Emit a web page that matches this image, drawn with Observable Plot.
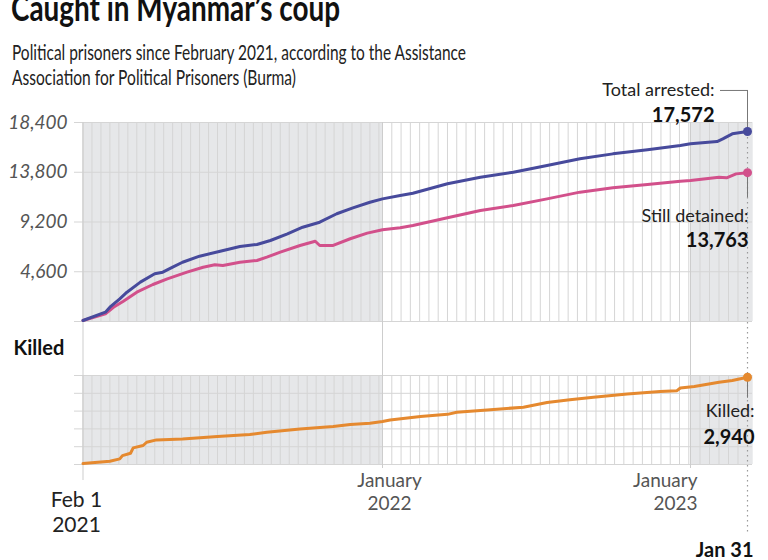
<!DOCTYPE html>
<html><head><meta charset="utf-8">
<script src="https://cdn.jsdelivr.net/npm/d3@7"></script>
<script src="https://cdn.jsdelivr.net/npm/@observablehq/plot@0.6"></script>
<style>
html,body{margin:0;padding:0;background:#fff;}
#wrap{position:relative;width:768px;height:560px;overflow:hidden;font-family:Lato,"Noto Sans",sans-serif;}
#wrap > svg{position:absolute;left:0;}
</style></head><body>
<div id="wrap">
<svg id="head" width="768" height="100" style="top:0" font-family="Lato, 'Noto Sans', sans-serif">
  <text x="11" y="21" font-size="36" font-weight="700" fill="#111" textLength="329" lengthAdjust="spacingAndGlyphs">Caught in Myanmar’s coup</text>
  <text x="12" y="60" font-size="21" fill="#222" textLength="454" lengthAdjust="spacingAndGlyphs">Political prisoners since February 2021, according to the Assistance</text>
  <text x="12" y="85" font-size="21" fill="#222" textLength="284" lengthAdjust="spacingAndGlyphs">Association for Political Prisoners (Burma)</text>
</svg>
</div>
<script>
// ---- data ----
const arrestedDates = ["2021-02-01","2021-02-26","2021-03-03","2021-03-14","2021-03-22","2021-04-06","2021-04-22","2021-05-01","2021-05-12","2021-05-23","2021-06-11","2021-07-04","2021-07-26","2021-08-14","2021-08-29","2021-09-17","2021-10-04","2021-10-23","2021-11-11","2021-11-29","2021-12-18","2022-01-01","2022-01-22","2022-02-06","2022-03-19","2022-04-27","2022-06-05","2022-07-15","2022-08-23","2022-10-01","2022-11-11","2022-12-20","2023-01-01","2023-01-15","2023-01-18","2023-01-23","2023-01-31"];
const arrestedValues = [90,860,1320,2100,2710,3640,4410,4560,5020,5480,6040,6500,6930,7120,7490,8110,8720,9180,9960,10510,11030,11340,11650,11860,12730,13340,13800,14420,15040,15500,15870,16270,16430,16640,16890,17350,17572];

const detainedDates = ["2021-02-01","2021-02-26","2021-03-07","2021-03-18","2021-04-02","2021-04-20","2021-05-06","2021-05-28","2021-06-15","2021-06-28","2021-07-07","2021-07-26","2021-08-14","2021-08-25","2021-09-09","2021-10-01","2021-10-18","2021-10-23","2021-11-07","2021-11-26","2021-12-15","2022-01-01","2022-01-22","2022-02-06","2022-03-19","2022-04-27","2022-06-05","2022-07-15","2022-08-23","2022-10-01","2022-11-11","2022-12-20","2023-01-01","2023-01-16","2023-01-20","2023-01-25","2023-01-31"];
const detainedValues = [90,710,1320,1880,2710,3420,3940,4560,5020,5240,5180,5480,5640,5950,6410,7030,7420,7030,7030,7650,8170,8480,8660,8880,9590,10260,10730,11340,11960,12360,12670,12970,13040,13340,13290,13650,13763];

const killedDates = ["2021-02-01","2021-03-03","2021-03-14","2021-03-17","2021-03-26","2021-03-29","2021-04-09","2021-04-13","2021-04-24","2021-05-23","2021-07-01","2021-08-06","2021-08-25","2021-10-01","2021-11-07","2021-11-26","2021-12-18","2022-01-01","2022-01-10","2022-02-15","2022-03-19","2022-03-30","2022-05-05","2022-06-17","2022-07-15","2022-08-11","2022-09-08","2022-10-18","2022-11-26","2022-12-16","2022-12-20","2023-01-03","2023-01-16","2023-01-23","2023-01-31"];
const killedValues = [30,110,190,300,380,560,640,750,830,860,940,1010,1090,1200,1280,1350,1390,1450,1500,1620,1690,1760,1840,1930,2090,2180,2270,2380,2460,2490,2580,2630,2770,2830,2940];

const topTicks = [0,4600,9200,13800,18400];
const killedTicks = [0,600,1200,1800,2400,3000];
const xBreaks = ["2021-02-01","2022-01-01","2023-01-01","2023-01-31"];
const shadeStarts = ["2021-02-01","2023-01-01"];
const shadeEnds = ["2022-01-01","2023-02-03"];
const majorDates = ["2021-02-01","2022-01-01","2023-01-01"];
const xLabelTexts = ["Feb 1\n2021","January\n2022","January\n2023","Jan 31"];

const colors = {arrested:"#474a9c", detained:"#d2508b", killed:"#e5892f"};

// ---- helpers ----
const parse = s => new Date(s + "T00:00:00Z");
const series = (ds, vs) => ds.map((d,i) => ({date: parse(d), value: vs[i]}));
const arrested = series(arrestedDates, arrestedValues);
const detained = series(detainedDates, detainedValues);
const killed = series(killedDates, killedValues);
const lastA = arrested.at(-1), lastD = detained.at(-1), lastK = killed.at(-1);
const shade = shadeStarts.map((s,i) => ({start: parse(s), end: parse(shadeEnds[i])}));
const majors = majorDates.map(parse);
const endDate = parse(xBreaks[3]);
const gridDates = [
  ...d3.utcDay.range(parse("2021-02-01"), parse("2022-01-01"), 10),
  ...d3.utcDay.range(parse("2022-01-01"), parse("2023-01-01"), 11),
  ...d3.utcDay.range(parse("2023-01-01"), parse("2023-01-31"), 5)
];
const fmt = d3.format(",");
const xScale = () => ({type: "utc", domain: xBreaks.map(parse), range: [82.5, 382, 690, 747], axis: null});
const gridColor = "#d5d5d5";
const style = {background: "transparent", fontFamily: "Lato, 'Noto Sans', sans-serif", overflow: "visible"};

// ---- top panel ----
const topPlot = Plot.plot({
  width: 768, height: 315,
  marginTop: 62, marginBottom: 54, marginLeft: 74, marginRight: 16,
  x: xScale(),
  y: {domain: [0, 18400], axis: null},
  style,
  marks: [
    Plot.rect(shade, {x1: "start", x2: "end", fill: "#e6e7e9"}),
    Plot.ruleX(gridDates, {stroke: gridColor, strokeWidth: 1}),
    Plot.ruleY(topTicks, {stroke: gridColor, strokeWidth: 1}),
    Plot.ruleX(majors, {stroke: "#cdcdcd", strokeWidth: 1, insetBottom: -54}),
    Plot.ruleX([endDate], {stroke: "#9a9a9a", strokeDasharray: "1.5,3.5", strokeWidth: 1.2, insetBottom: -54}),
    Plot.text(topTicks.slice(1), {y: d => d, text: d => fmt(d), frameAnchor: "left", textAnchor: "end", dx: -7, fontStyle: "italic", fontSize: 19, fill: "#555"}),
    Plot.line(detained, {x: "date", y: "value", stroke: colors.detained, strokeWidth: 3}),
    Plot.line(arrested, {x: "date", y: "value", stroke: colors.arrested, strokeWidth: 3}),
    // leaders
    Plot.ruleX([lastA], {x: "date", y1: "value", y2: "value", insetTop: -41, stroke: "#777", strokeWidth: 1}),
    Plot.ruleY([lastA], {y: "value", x1: "date", x2: "date", insetLeft: -27, dy: -41, stroke: "#777", strokeWidth: 1}),
    Plot.ruleX([lastD], {x: "date", y1: "value", y2: "value", insetBottom: -25, stroke: "#777", strokeWidth: 1}),
    Plot.dot([lastA], {x: "date", y: "value", r: 4.5, fill: colors.arrested}),
    Plot.dot([lastD], {x: "date", y: "value", r: 4.5, fill: colors.detained}),
    Plot.text([lastA], {x: "date", y: "value", text: d => "Total arrested:", textAnchor: "end", lineAnchor: "bottom", dx: -33, dy: -35, fontSize: 18, fill: "#222"}),
    Plot.text([lastA], {x: "date", y: "value", text: d => fmt(d.value), textAnchor: "end", lineAnchor: "bottom", dx: -33, dy: -9, fontSize: 20, fontWeight: "bold", fill: "#111"}),
    Plot.text([lastD], {x: "date", y: "value", text: d => "Still detained:", textAnchor: "end", lineAnchor: "bottom", dx: 1, dy: 49, fontSize: 18, fill: "#222"}),
    Plot.text([lastD], {x: "date", y: "value", text: d => fmt(d.value), textAnchor: "end", lineAnchor: "bottom", dx: 1, dy: 74, fontSize: 20, fontWeight: "bold", fill: "#111"})
  ]
});
topPlot.style.position = "absolute";
topPlot.style.top = "60px";
topPlot.style.left = "0px";

// ---- killed panel ----
const xl = xLabelTexts.map((t,i) => ({date: parse([...majorDates, xBreaks[3]][i]), label: t}));
const botPlot = Plot.plot({
  width: 768, height: 220,
  marginTop: 35, marginBottom: 96, marginLeft: 74, marginRight: 16,
  x: xScale(),
  y: {domain: [0, 3000], axis: null},
  style,
  marks: [
    Plot.rect(shade, {x1: "start", x2: "end", fill: "#e6e7e9"}),
    Plot.ruleX(gridDates, {stroke: gridColor, strokeWidth: 1}),
    Plot.ruleY(killedTicks, {stroke: gridColor, strokeWidth: 1}),
    Plot.ruleX(majors.slice(1), {stroke: "#cdcdcd", strokeWidth: 1, insetBottom: -4}),
    Plot.ruleX(majors.slice(0,1), {stroke: "#cdcdcd", strokeWidth: 1, insetBottom: -16}),
    Plot.ruleX([endDate], {stroke: "#9a9a9a", strokeDasharray: "1.5,3.5", strokeWidth: 1.2, insetBottom: -69}),
    Plot.line(killed, {x: "date", y: "value", stroke: colors.killed, strokeWidth: 3}),
    Plot.ruleX([lastK], {x: "date", y1: "value", y2: "value", insetBottom: -21, stroke: "#777", strokeWidth: 1}),
    Plot.dot([lastK], {x: "date", y: "value", r: 4.5, fill: colors.killed}),
    Plot.text([lastK], {x: "date", y: "value", text: d => "Killed:", textAnchor: "end", lineAnchor: "bottom", dx: 7, dy: 40, fontSize: 18, fill: "#222"}),
    Plot.text([lastK], {x: "date", y: "value", text: d => fmt(d.value), textAnchor: "end", lineAnchor: "bottom", dx: 7, dy: 67, fontSize: 20, fontWeight: "bold", fill: "#111"}),
    Plot.text(["Killed"], {text: d => d, frameAnchor: "top-left", textAnchor: "start", lineAnchor: "bottom", dx: -61, dy: -21, fontSize: 20, fontWeight: "bold", fill: "#111"}),
    // x labels
    Plot.text(xl.slice(0,1), {x: "date", text: "label", frameAnchor: "bottom", lineAnchor: "bottom", textAnchor: "middle", dx: -6.5, dy: 67, lineHeight: 1.18, fontSize: 21, fill: "#222"}),
    Plot.text(xl.slice(1,2), {x: "date", text: "label", frameAnchor: "bottom", lineAnchor: "bottom", textAnchor: "middle", dx: 7, dy: 45, lineHeight: 1.19, fontSize: 19, fill: "#555"}),
    Plot.text(xl.slice(2,3), {x: "date", text: "label", frameAnchor: "bottom", lineAnchor: "bottom", textAnchor: "end", dx: 7, dy: 45, lineHeight: 1.19, fontSize: 19, fill: "#555"}),
    Plot.text(xl.slice(3,4), {x: "date", text: "label", frameAnchor: "bottom", lineAnchor: "bottom", textAnchor: "end", dx: 6, dy: 92, fontSize: 20, fontWeight: "bold", fill: "#111"})
  ]
});
botPlot.style.position = "absolute";
botPlot.style.top = "340px";
botPlot.style.left = "0px";

const wrap = document.getElementById("wrap");
wrap.appendChild(topPlot);
wrap.appendChild(botPlot);
</script>
</body></html>
